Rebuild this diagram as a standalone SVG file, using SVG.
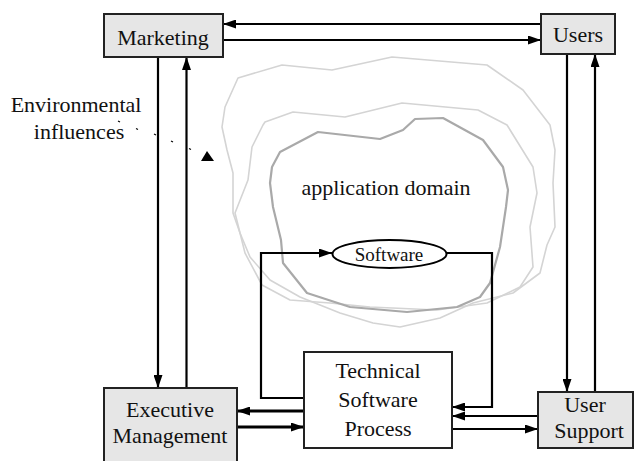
<svg xmlns="http://www.w3.org/2000/svg" width="634" height="461" viewBox="0 0 634 461">
<style>
.box{fill:#e6e6e6;stroke:#222;stroke-width:2}
.wbox{fill:#fff;stroke:#222;stroke-width:2}
text{font-family:'Liberation Serif','Times New Roman',serif;font-size:22px;fill:#111;text-anchor:middle}
.c{fill:none;stroke:#000;stroke-width:2.2;stroke-linejoin:miter}
.thk{stroke-width:3}
.cl1{fill:none;stroke:#d4d4d4;stroke-width:1.6;stroke-linejoin:round}
.cl3{fill:none;stroke:#a9a9a9;stroke-width:2.2;stroke-linejoin:round}
</style>
<defs>
<marker id="ah" viewBox="0 0 13 9" refX="13" refY="4.5" markerWidth="13" markerHeight="9" markerUnits="userSpaceOnUse" orient="auto"><path d="M0,0 L13,4.5 L0,9 z" fill="#000"/></marker>
</defs>
<rect width="634" height="461" fill="#fff"/>
<g id="clouds">
<path class="cl1" d="M238,78 L282,65 L332,70 L392,57 L487,65 L523,90 L550,125 L555,150 L553,183 L555,227 L547,245 L540,273 L513,293 L473,303 L440,318 L400,327 L373,323 L340,313 L300,297 L270,280 L250,257 L240,233 L233,213 L233,173 L227,150 L222,127 L225,107 Z"/>
<path class="cl1" d="M265,122 L293,112 L345,117 L402,103 L478,110 L507,125 L533,167 L537,193 L530,227 L533,267 L520,287 L487,303 L437,310 L370,307 L330,303 L290,300 L262,285 L245,253 L235,213 L248,180 L252,147 L263,125 Z"/>
<path class="cl3" d="M280,152 L318,132 L380,139 L403,130 L415,119 L443,118 L483,140 L503,167 L508,190 L506,207 L500,247 L490,283 L480,297 L457,307 L407,312 L350,307 L307,293 L283,263 L281,240 L273,207 L270,183 L272,167 Z"/>
</g>
<g id="connectors">
<line class="c" x1="540" y1="24" x2="223" y2="24" marker-end="url(#ah)"/>
<line class="c" x1="223" y1="40" x2="541" y2="40" marker-end="url(#ah)"/>
<line class="c" x1="158" y1="57" x2="158" y2="388" marker-end="url(#ah)"/>
<line class="c" x1="186.5" y1="388" x2="186.5" y2="57" marker-end="url(#ah)"/>
<line class="c" x1="567" y1="54" x2="567" y2="392" marker-end="url(#ah)"/>
<line class="c" x1="595" y1="392" x2="595" y2="54" marker-end="url(#ah)"/>
<line class="c thk" x1="304" y1="411" x2="237" y2="411" marker-end="url(#ah)"/>
<line class="c thk" x1="237" y1="427" x2="304" y2="427" marker-end="url(#ah)"/>
<polyline class="c" points="304,398 261,398 261,253 332,253" marker-end="url(#ah)"/>
<polyline class="c" points="447,253 492,253 492,407 452,407" marker-end="url(#ah)"/>
<line class="c" x1="538" y1="416" x2="452" y2="416" marker-end="url(#ah)"/>
<line class="c" x1="452" y1="429" x2="538" y2="429" marker-end="url(#ah)"/>
<g id="env-arrow" stroke="#000" stroke-width="1.2">
<line x1="118" y1="121" x2="120" y2="122"/>
<line x1="136" y1="128.5" x2="138" y2="129.5"/>
<line x1="154" y1="134" x2="156" y2="135"/>
<line x1="171" y1="141" x2="173" y2="142"/>
<line x1="189" y1="148.5" x2="191" y2="149.5"/>
</g>
<polygon points="207,151 201,161 214,161" fill="#000"/>
</g>
<g id="marketing">
<rect class="box" x="104" y="14" width="119" height="43"/>
<text x="163" y="45">Marketing</text>
</g>
<g id="users">
<rect class="box" x="541" y="14" width="74" height="40"/>
<text x="578" y="42">Users</text>
</g>
<g id="environmental">
<text x="76" y="112">Environmental</text>
<text x="79" y="139">influences</text>
</g>
<g id="domain">
<text x="386" y="195">application domain</text>
</g>
<g id="software">
<ellipse cx="389.5" cy="254" rx="57" ry="14" fill="#fff" stroke="#000" stroke-width="2"/>
<text x="389" y="261" style="font-size:19px">Software</text>
</g>
<g id="executive">
<rect class="box" x="104" y="388" width="133" height="80"/>
<text x="170" y="417">Executive</text>
<text x="170" y="443">Management</text>
</g>
<g id="technical">
<rect class="wbox" x="304" y="352" width="148" height="96"/>
<text x="378" y="378">Technical</text>
<text x="378" y="407">Software</text>
<text x="378" y="436">Process</text>
</g>
<g id="usersupport">
<rect class="box" x="538" y="392" width="95" height="56"/>
<text x="585" y="412">User</text>
<text x="589" y="438">Support</text>
</g>
</svg>
